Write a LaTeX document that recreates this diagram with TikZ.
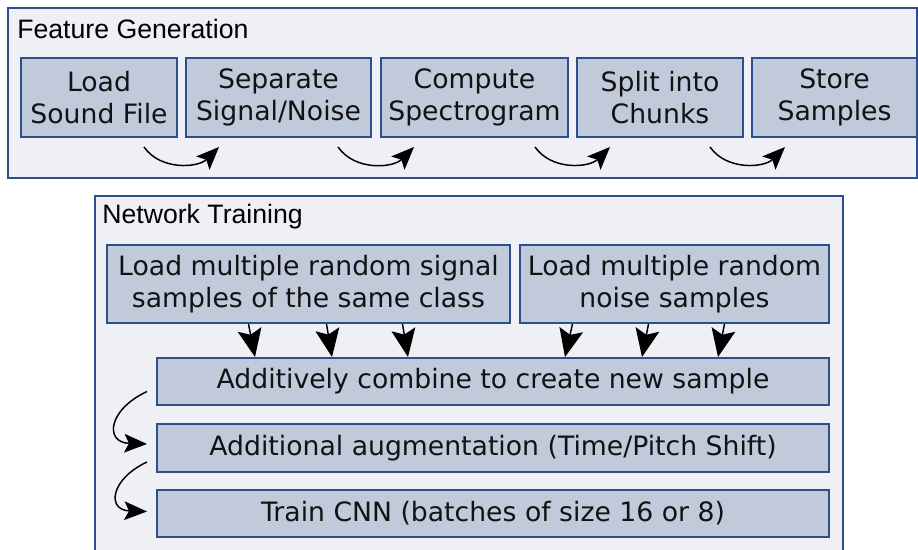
\documentclass[tikz,border=0pt]{standalone}
\usepackage{fontspec}
\setmainfont{DejaVu Sans}
\newfontfamily\titlefont{Liberation Sans}
\usepackage{xcolor}
\usepackage{tikz}
\usetikzlibrary{positioning, calc, arrows.meta}

\definecolor{boxline}{HTML}{2D4F8C}
\definecolor{boxfill}{HTML}{C0CADB}
\definecolor{groupfill}{HTML}{EEF0F5}

\newlength\pxu
\setlength\pxu{0.75pt}

\begin{document}
\begin{tikzpicture}[x=\pxu, y=\pxu,
    group/.style={draw=boxline, fill=groupfill, line width=1.5pt, inner sep=0pt},
    stepbox/.style={draw=boxline, fill=boxfill, line width=1.5pt, align=center, inner sep=0pt,
                    font=\fontsize{20}{23.5}\selectfont, text=black!93},
    grouptitle/.style={anchor=west, inner sep=0pt, font=\titlefont\fontsize{20}{24}\selectfont},
    flow/.style={line width=1.1pt, -{Stealth[length=21pt, width=18pt, inset=4pt]}},
    turnflow/.style={line width=1.1pt, -{Stealth[length=17pt, width=14pt, inset=3.5pt]}}]
      \useasboundingbox (0,0) rectangle (918,550);

      % feature generation
      \node[group, minimum width=909\pxu, minimum height=170\pxu]  (FG)  at (462.5, 457)  {};
      \node[grouptitle]  (FGT)  at (17, 521)  {Feature Generation};

      \node[stepbox, minimum width=156\pxu, minimum height=79\pxu]  (LS)  at (99,    452.5)  {Load \\ Sound File};
      \node[stepbox, minimum width=185\pxu, minimum height=79\pxu]  (SN)  at (278.5, 452.5)  {Separate \\ Signal/Noise};
      \node[stepbox, minimum width=187\pxu, minimum height=79\pxu]  (CS)  at (474.5, 452.5)  {Compute \\ Spectrogram};
      \node[stepbox, minimum width=166\pxu, minimum height=79\pxu]  (SC)  at (660,   452.5)  {Split into \\ Chunks};
      \node[stepbox, minimum width=165\pxu, minimum height=79\pxu]  (SS)  at (834.5, 452.5)  {Store \\ Samples};

      % network training
      \node[group, minimum width=748\pxu, minimum height=364\pxu]  (NT)  at (469, 172)  {};
      \node[grouptitle]  (NTT)  at (102, 333.5)  {Network Training};

      \node[stepbox, minimum width=403\pxu, minimum height=78\pxu]  (SIG)   at (308.5, 266)    {Load multiple random signal \\ samples of the same class};
      \node[stepbox, minimum width=309\pxu, minimum height=78\pxu]  (NOI)   at (674.5, 266)    {Load multiple random \\ noise samples};
      \node[stepbox, minimum width=672\pxu, minimum height=47\pxu]  (COMB)  at (493,   168.5)  {Additively combine to create new sample};
      \node[stepbox, minimum width=672\pxu, minimum height=48\pxu]  (AUG)   at (493,   102)    {Additional augmentation (Time/Pitch Shift)};
      \node[stepbox, minimum width=672\pxu, minimum height=47\pxu]  (CNN)   at (493,   36.5)   {Train CNN (batches of size 16 or 8)};

      \foreach \a/\b in {LS/SN, SN/CS, CS/SC, SC/SS}
        \draw[turnflow] ($(\a.south east)+(-34,-9)$) to[out=-55, in=-135] ($(\b.south west)+(34,-9)$);

      \foreach \s/\e in {-60/-238, 18/-161, 94/-85}
        \draw[flow] ($(SIG.south)+(\s,0)$) -- ($(COMB.north)+(\e,0)$);
      \foreach \s/\e in {-102/72, -26/149, 50/225}
        \draw[flow] ($(NOI.south)+(\s,0)$) -- ($(COMB.north)+(\e,0)$);

      \draw[turnflow] ($(COMB.west)+(-9,-10)$) to[out=205, in=178, looseness=2.1] ($(AUG.west)+(-9,4)$);
      \draw[turnflow] ($(AUG.west)+(-9,-14)$)  to[out=205, in=178, looseness=2.1] ($(CNN.west)+(-9,2)$);
    \end{tikzpicture}
\end{document}
